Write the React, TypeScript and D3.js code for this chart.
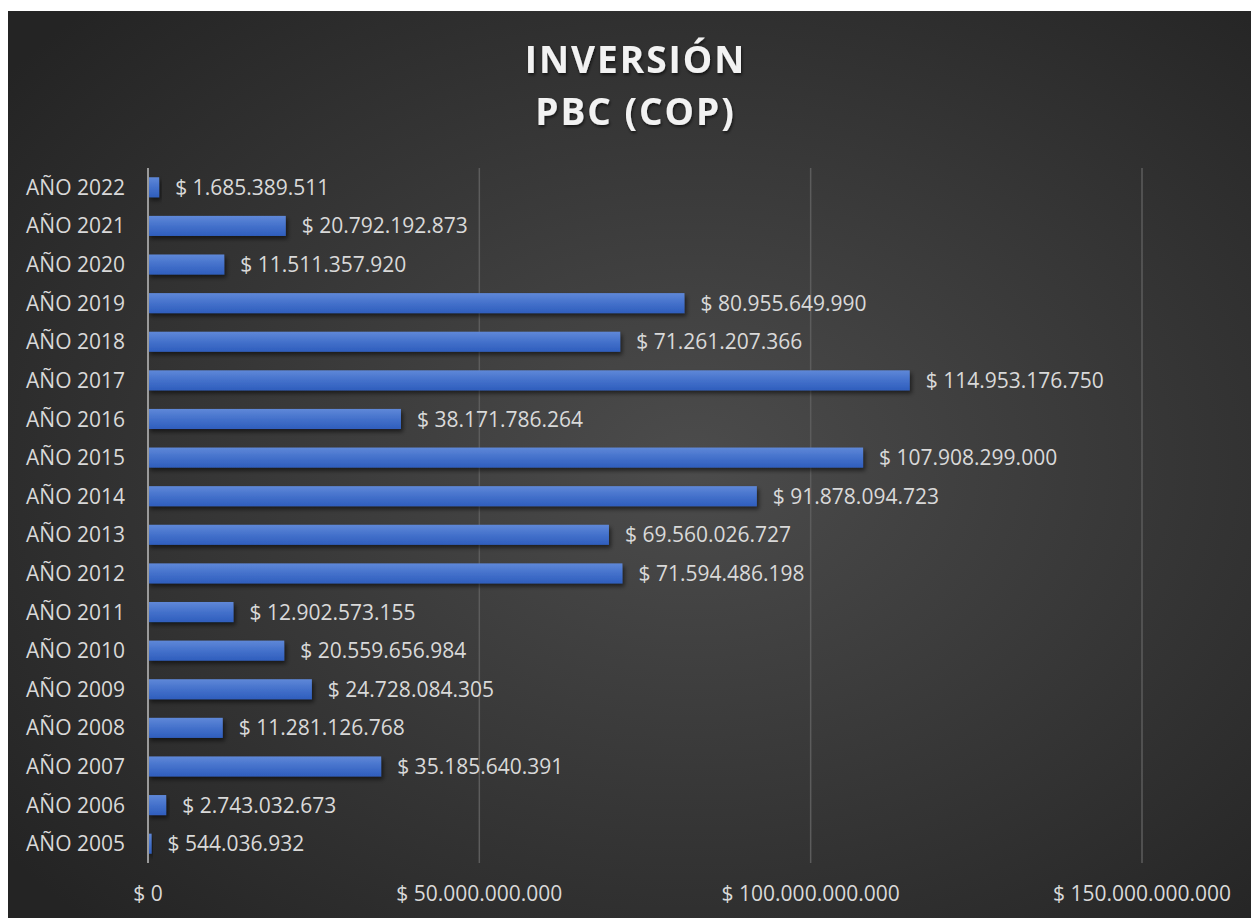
import React from "react";
import * as d3 from "d3";

const years = [
  "AÑO 2022", "AÑO 2021", "AÑO 2020", "AÑO 2019", "AÑO 2018", "AÑO 2017",
  "AÑO 2016", "AÑO 2015", "AÑO 2014", "AÑO 2013", "AÑO 2012", "AÑO 2011",
  "AÑO 2010", "AÑO 2009", "AÑO 2008", "AÑO 2007", "AÑO 2006", "AÑO 2005",
];
const inversion = [
  1685389511, 20792192873, 11511357920, 80955649990, 71261207366, 114953176750,
  38171786264, 107908299000, 91878094723, 69560026727, 71594486198, 12902573155,
  20559656984, 24728084305, 11281126768, 35185640391, 2743032673, 544036932,
];
const xTicks = [0, 50000000000, 100000000000, 150000000000];
const titleLines = ["INVERSIÓN", "PBC (COP)"];

const W = 1243;
const H = 907;
const FONT = "'Open Sans', 'Noto Sans', sans-serif";

const cop = d3.formatLocale({
  decimal: ",",
  thousands: ".",
  grouping: [3],
  currency: ["$ ", ""],
});
const fmt = cop.format("$,.0f");

export default function App() {
  const x = d3.scaleLinear().domain([0, 150000000000]).range([140, 1134]);
  const y = d3.scaleBand().domain(years).range([157, 852]).paddingInner(0.48).paddingOuter(0.24);

  return (
    <svg
      width={W}
      height={H}
      style={{ position: "absolute", left: 8, top: 11, fontFamily: FONT }}
    >
      <defs>
        <radialGradient id="bg" cx="55%" cy="50%" r="70%">
          <stop offset="0%" stopColor="#4c4c4c" />
          <stop offset="100%" stopColor="#242424" />
        </radialGradient>
        <linearGradient id="bar" x1="0" y1="0" x2="0" y2="1">
          <stop offset="0%" stopColor="#5f88d8" />
          <stop offset="50%" stopColor="#4471cb" />
          <stop offset="100%" stopColor="#2f5ebd" />
        </linearGradient>
        <filter id="shadow" x="-10%" y="-50%" width="130%" height="250%">
          <feDropShadow dx="2" dy="3" stdDeviation="2" floodColor="#000" floodOpacity="0.55" />
        </filter>
        <filter id="tshadow" x="-10%" y="-30%" width="130%" height="160%">
          <feDropShadow dx="1" dy="2" stdDeviation="1.5" floodColor="#000" floodOpacity="0.6" />
        </filter>
      </defs>
      <rect width={W} height={H} fill="url(#bg)" />

      {titleLines.map((t, i) => (
        <text
          key={t}
          x={W / 2 + 6}
          y={62 + i * 52}
          textAnchor="middle"
          fill="#f2f2f2"
          fontWeight="bold"
          fontSize={37}
          letterSpacing={2}
          filter="url(#tshadow)"
        >
          {t}
        </text>
      ))}

      {xTicks.slice(1).map((t) => (
        <line key={t} x1={x(t)} x2={x(t)} y1={157} y2={852} stroke="#5c5c5c" strokeWidth={1.5} />
      ))}

      {years.map((yr, i) => (
        <rect
          key={yr}
          x={x(0)}
          y={y(yr)}
          width={x(inversion[i]) - x(0)}
          height={y.bandwidth()}
          fill="url(#bar)"
          filter="url(#shadow)"
        />
      ))}

      <line x1={x(0)} x2={x(0)} y1={157} y2={852} stroke="#9a9a9a" strokeWidth={2} />

      {years.map((yr, i) => (
        <text
          key={"c" + yr}
          x={117}
          y={(y(yr) as number) + y.bandwidth() / 2}
          dy="0.36em"
          textAnchor="end"
          fill="#d9d9d9"
          fontSize={21}
        >
          {yr}
        </text>
      ))}

      {years.map((yr, i) => (
        <text
          key={"v" + yr}
          x={x(inversion[i]) + 16}
          y={(y(yr) as number) + y.bandwidth() / 2}
          dy="0.36em"
          fill="#d9d9d9"
          fontSize={21}
        >
          {fmt(inversion[i])}
        </text>
      ))}

      {xTicks.map((t) => (
        <text
          key={"t" + t}
          x={x(t)}
          y={882}
          dy="0.36em"
          textAnchor="middle"
          fill="#d9d9d9"
          fontSize={21}
        >
          {fmt(t)}
        </text>
      ))}
    </svg>
  );
}
